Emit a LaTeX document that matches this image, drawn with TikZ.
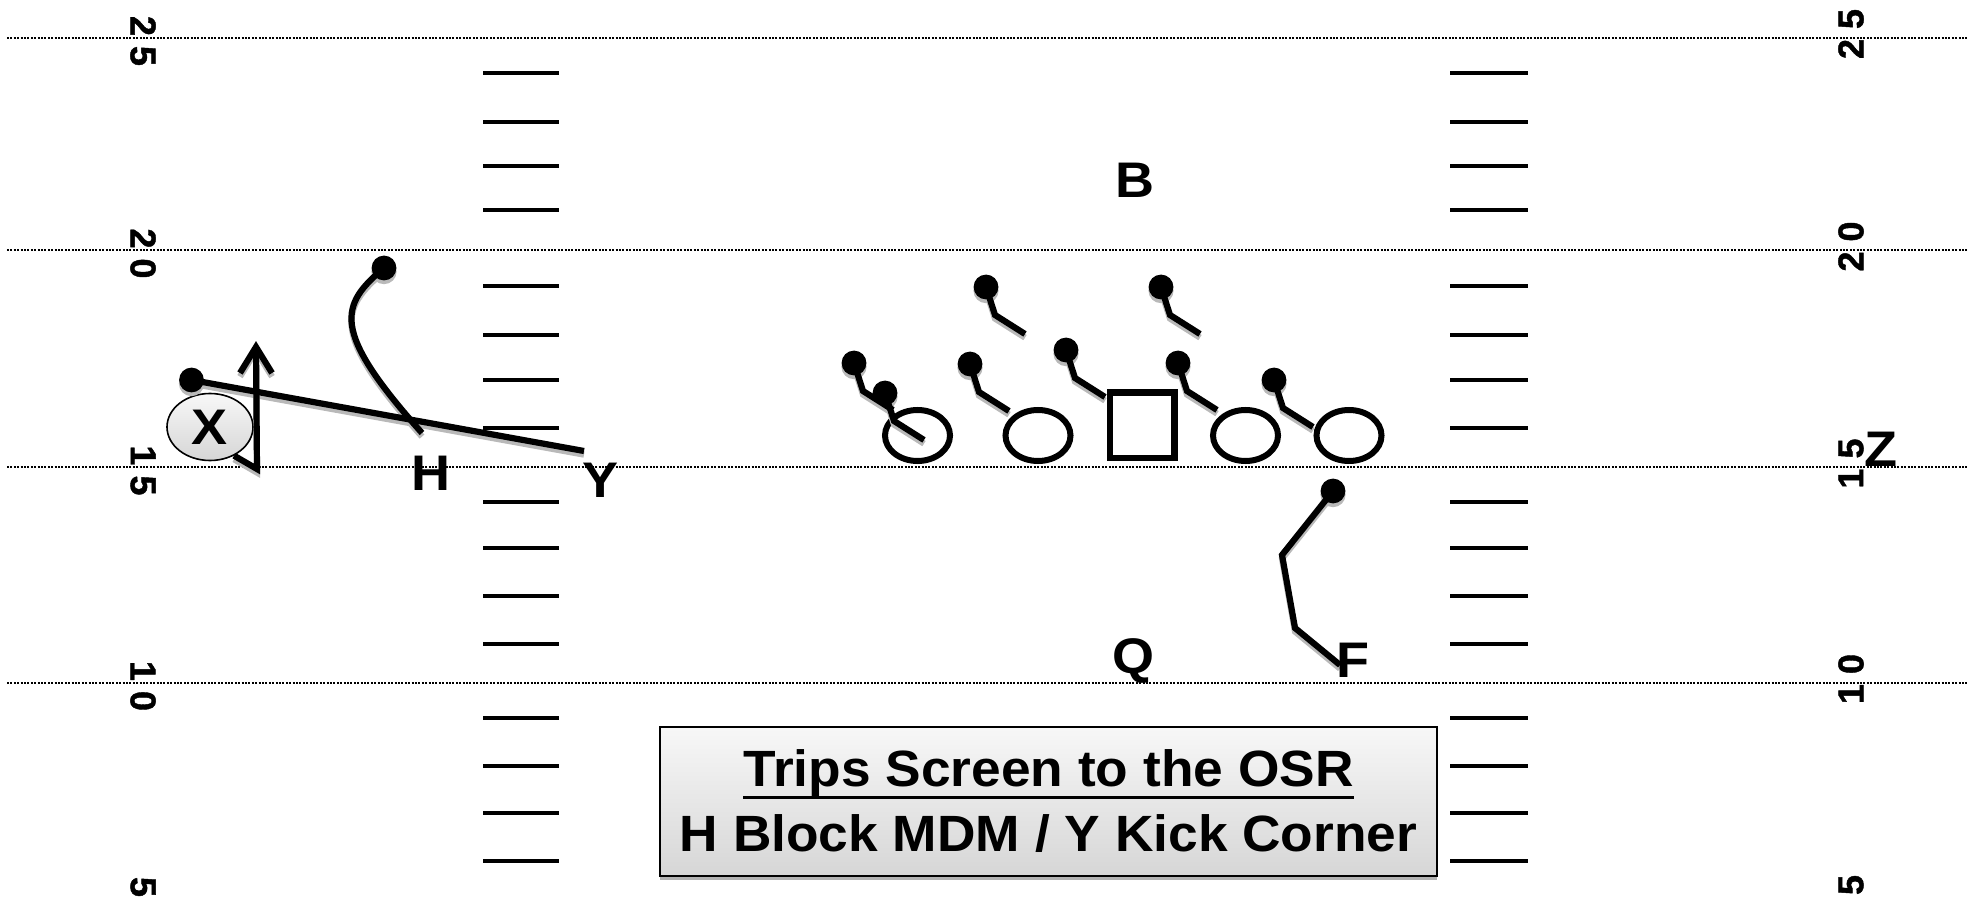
\documentclass[tikz,border=0pt]{standalone}
\usepackage{fontspec}
\setmainfont{Liberation Sans}
\newfontfamily\widefont{Liberation Sans}[FakeStretch=1.08]
\newfontfamily\titlefont{Liberation Sans}[FakeStretch=1.045]
\newfontfamily\numfont{Liberation Sans}[FakeBold=1.2]
\usetikzlibrary{shapes.geometric,shadows}

\pgfdeclarelayer{field}
\pgfdeclarelayer{shade}
\pgfdeclarelayer{routes}
\pgfsetlayers{field,shade,routes,main}

% underlined line with a heavier rule than \underline gives
\newcommand\ulbox[1]{\setbox0\hbox{#1}\rlap{\rule[-6pt]{\wd0}{1.5pt}}\box0}
% a route: grey drop shadow underneath, black stroke on top
\newcommand\playroute[1]{%
  \begin{pgfonlayer}{shade}\draw[routeshade] #1;\end{pgfonlayer}%
  \begin{pgfonlayer}{routes}\draw[route] #1;\end{pgfonlayer}}
% a defender / route dot with its shadow
\newcommand\playdot[2]{%
  \node[pdot] (#1) at #2 {};%
  \begin{pgfonlayer}{shade}\fill[gray!55] ([yshift=-1.8pt]#1.center) circle[radius=6.3pt];\end{pgfonlayer}}

\tikzset{
  yardline/.style={line width=1pt, dash pattern=on 1pt off 0.7pt},
  hashmark/.style={line width=2.2pt},
  yardnum/.style={font=\numfont\bfseries\fontsize{18}{18}\selectfont, inner sep=0pt},
  player/.style={font=\widefont\bfseries\fontsize{25}{25}\selectfont, inner sep=0pt},
  lineman/.style={draw, ellipse, line width=3pt, minimum width=32.5pt, minimum height=25.5pt, inner sep=0pt},
  snapper/.style={draw, rectangle, line width=3.1pt, minimum width=32.4pt, minimum height=32.9pt, inner sep=0pt},
  pdot/.style={circle, fill=black, minimum size=12.4pt, inner sep=0pt},
  route/.style={line width=3.1pt},
  routeshade/.style={draw=gray!55, line width=3.1pt, transform canvas={yshift=-1.8pt}},
  receiver/.style={ellipse, draw, line width=0.8pt, top color=gray!6, bottom color=gray!32,
    minimum width=43pt, minimum height=33.5pt, inner sep=0pt,
    font=\widefont\bfseries\fontsize{25}{25}\selectfont},
  titlebox/.style={draw, line width=0.8pt, top color=gray!6, bottom color=gray!32,
    minimum width=388.5pt, minimum height=74.5pt, inner sep=0pt, align=center,
    font=\titlefont\bfseries\fontsize{25.5}{32.5}\selectfont,
    drop shadow={shadow xshift=0pt, shadow yshift=-2pt, fill=gray!60, opacity=1}}
}

\begin{document}
\begin{tikzpicture}[x=0.5pt,y=-0.5pt]
\useasboundingbox (0,0) rectangle (1968,897);

\begin{pgfonlayer}{field}
  % yard lines
  \foreach \y in {38,250.5,467.5,683}
    \draw[yardline] (7,\y) -- (1968,\y);
  % hash marks
  \foreach \y in {73,122,166,210,286,335,380,428,502,548,596,644,718,766,813,861} {
    \draw[hashmark] (483,\y) -- (559,\y);
    \draw[hashmark] (1450,\y) -- (1528,\y);
  }
  % yard numbers
  \foreach \t/\y [count=\k] in {2 5/41, 2 0/253.5, 1 5/470.5, 1 0/686, 5/887}
    \node[yardnum, rotate=-90] (numL\k) at (143,\y) {\t};
  \foreach \t/\y [count=\k] in {2 5/34, 2 0/246.5, 1 5/463.5, 1 0/679, 5/885}
    \node[yardnum, rotate=90] (numR\k) at (1851,\y) {\t};
  % offensive line
  \node[lineman] (lt) at (917.5,435.5) {};
  \node[lineman] (lg) at (1038,435.5) {};
  \node[snapper] (c)  at (1142,425.5) {};
  \node[lineman] (rg) at (1245.5,435.5) {};
  \node[lineman] (rt) at (1349,435.5) {};
  % split end
  \node[receiver] (X) at (210,427) {X};
\end{pgfonlayer}

% defenders
\foreach \n/\px/\py in {d1/986/287, d2/1161/287, d3/854/363, d4/885/393,
                        d5/970/364, d6/1066/350, d7/1178/363, d8/1274/380}
  \playdot{\n}{(\px,\py)};
\foreach \n in {d1,d2,d3,d4,d5,d6,d7,d8}
  \playroute{(\n.center) -- ++(9,28) -- ++(30,19)};

% route dots
\playdot{ydot}{(191.5,380)}
\playdot{hdot}{(384,268)}
\playdot{fdot}{(1333,491)}

% Y route
\coordinate (yend) at (584,451);
\playroute{(ydot.center) -- (yend)}

% H route
\coordinate (hstart) at (422,433);
\playroute{(hstart) .. controls (330,330) and (340,305) .. (hdot.center)}

% F route
\coordinate (fb1) at (1282,555);
\coordinate (fb2) at (1295,628);
\coordinate (fend) at (1340,665);
\playroute{(fdot.center) -- (fb1) -- (fb2) -- (fend)}

% X route with open arrowhead
\coordinate (xturn) at (257,469);
\coordinate (xtip) at (256,347);
\coordinate (xarmL) at (240,373);
\coordinate (xarmR) at (272,373);
\playroute{(X.-50) -- (xturn) -- (xtip)}
\playroute{(xarmL) -- (xtip) -- (xarmR)}

% player labels
\node[player] (B) at (1134.5,180) {B};
\node[player] (Q) at (1133,661) {Q};
\node[player] (F) at (1353,660) {F};
\node[player] (H) at (431,473) {H};
\node[player] (Y) at (600,480) {Y};
\node[player] (Z) at (1881,449) {Z};

% play title
\node[titlebox] (title) at (1048.5,801.5)
  {\ulbox{Trips Screen to the OSR}\\H Block MDM / Y Kick Corner};
\end{tikzpicture}
\end{document}
